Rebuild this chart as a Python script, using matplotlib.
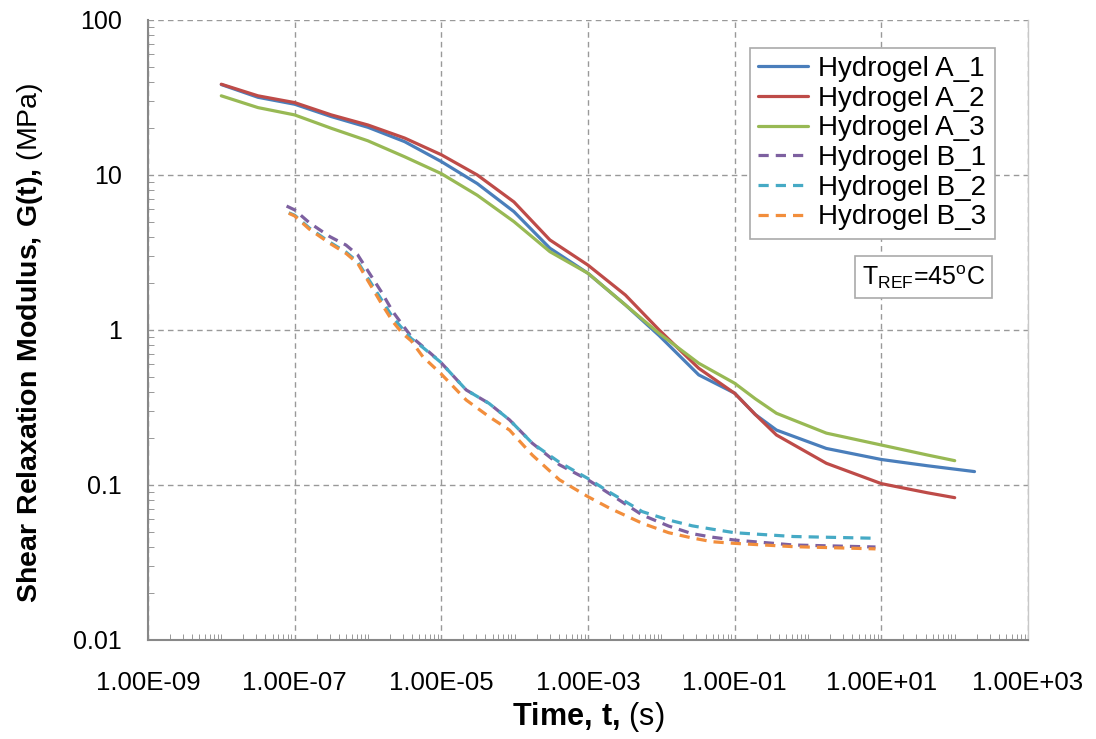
import numpy as np
import matplotlib
matplotlib.use('Agg')
import matplotlib.pyplot as plt
import matplotlib.ticker as ticker

a1_logt = [-8.0, -7.5, -7.0, -6.5, -6.0, -5.5, -5.0, -4.51, -4.01, -3.52, -3.0, -2.49,
           -2.03, -1.49, -1.0, -0.72, -0.43, 0.25, 1.0, 1.63, 2.27]
a1_g = [38.3, 31.7, 28.6, 23.8, 20.3, 16.4, 12.2, 8.8, 5.8, 3.37, 2.32, 1.45,
        0.92, 0.513, 0.391, 0.285, 0.226, 0.172, 0.146, 0.133, 0.122]

a2_logt = [-8.0, -7.5, -7.0, -6.5, -6.0, -5.5, -5.0, -4.51, -4.01, -3.52, -3.0, -2.49,
           -2.03, -1.49, -1.0, -0.72, -0.43, 0.25, 1.0, 1.63, 2.0]
a2_g = [38.5, 32.4, 29.3, 24.4, 21.0, 17.3, 13.5, 10.0, 6.7, 3.81, 2.62, 1.68,
        1.0, 0.566, 0.39, 0.285, 0.21, 0.138, 0.102, 0.089, 0.0828]

a3_logt = [-8.0, -7.5, -7.0, -6.5, -6.0, -5.5, -5.0, -4.51, -4.01, -3.52, -3.0, -2.49,
           -2.03, -1.49, -1.0, -0.72, -0.43, 0.25, 1.0, 1.63, 2.0]
a3_g = [32.4, 27.2, 24.4, 20.0, 16.6, 13.1, 10.2, 7.4, 5.0, 3.2, 2.32, 1.45,
        0.95, 0.61, 0.453, 0.36, 0.29, 0.216, 0.181, 0.156, 0.1435]

b1_logt = [-7.11, -7.0, -6.8, -6.52, -6.3, -6.14, -5.98, -5.82, -5.66, -5.53, -5.41, -5.25,
           -5.01, -4.66, -4.35, -4.07, -3.76, -3.39, -3.0, -2.71, -2.26, -1.9, -1.58, -1.3,
           -1.0, -0.2, 0.92]
b1_g = [6.3, 5.95, 4.92, 4.0, 3.53, 3.05, 2.32, 1.77, 1.31, 1.08, 0.906, 0.78,
        0.62, 0.41, 0.336, 0.263, 0.186, 0.135, 0.108, 0.088, 0.064, 0.0543, 0.0485, 0.046,
        0.0441, 0.041, 0.0398]

b2_logt = [-7.08, -7.0, -6.8, -6.52, -6.3, -6.14, -5.98, -5.82, -5.66, -5.53, -5.41, -5.25,
           -5.01, -4.66, -4.35, -4.07, -3.76, -3.39, -3.0, -2.71, -2.26, -1.9, -1.58, -1.3,
           -1.0, -0.2, 0.92]
b2_g = [5.7, 5.5, 4.55, 3.68, 3.18, 2.75, 2.08, 1.58, 1.2, 1.02, 0.88, 0.77,
        0.62, 0.41, 0.336, 0.263, 0.186, 0.14, 0.11, 0.09, 0.0673, 0.0594, 0.0545, 0.0518,
        0.0492, 0.0465, 0.0453]

b3_logt = [-7.08, -7.0, -6.8, -6.52, -6.3, -6.14, -5.98, -5.82, -5.66, -5.53, -5.41, -5.25,
           -5.01, -4.66, -4.35, -4.07, -3.76, -3.39, -3.0, -2.71, -2.26, -1.9, -1.58, -1.3,
           -1.0, -0.2, 0.92]
b3_g = [5.66, 5.44, 4.47, 3.62, 3.12, 2.69, 2.0, 1.49, 1.13, 0.95, 0.85, 0.67,
        0.525, 0.353, 0.276, 0.226, 0.156, 0.108, 0.084, 0.071, 0.0566, 0.0492, 0.0455, 0.043,
        0.042, 0.040, 0.0387]

labels = ['Hydrogel A_1', 'Hydrogel A_2', 'Hydrogel A_3',
          'Hydrogel B_1', 'Hydrogel B_2', 'Hydrogel B_3']
colors = ['#4A7EBB', '#BE4B48', '#98B954', '#7D60A0', '#46AAC5', '#F28E3C']

plt.rcParams['font.family'] = 'Liberation Sans'
plt.rcParams['mathtext.fontset'] = 'custom'
plt.rcParams['mathtext.rm'] = 'Liberation Sans'
plt.rcParams['mathtext.bf'] = 'Liberation Sans:bold'

fig = plt.figure(figsize=(10.96, 7.39), dpi=100)
ax = fig.add_axes([0.135, 0.134, 0.803, 0.839])

series = [(a1_logt, a1_g), (a2_logt, a2_g), (a3_logt, a3_g),
          (b1_logt, b1_g), (b2_logt, b2_g), (b3_logt, b3_g)]
for i, (lt, g) in enumerate(series):
    t = 10.0 ** np.array(lt)
    if i < 3:
        ax.plot(t, g, color=colors[i], lw=2.3, label=labels[i], solid_capstyle='round')
    else:
        ax.plot(t, g, color=colors[i], lw=2.3, ls=(0, (3.2, 2.2)), label=labels[i])

ax.set_xscale('log')
ax.set_yscale('log')
ax.set_xlim(1e-9, 1e3)
ax.set_ylim(0.01, 100)

# x: labelled gridlines every two decades, minor ticks every decade
ax.xaxis.set_major_locator(ticker.FixedLocator([10.0 ** e for e in range(-9, 4, 2)]))
minors = [k * 10.0 ** e for e in range(-9, 3) for k in range(1, 10) if not (k == 1 and e % 2 != 0)]
ax.xaxis.set_minor_locator(ticker.FixedLocator(minors))
ax.xaxis.set_major_formatter(ticker.FuncFormatter(lambda x, pos: '{:.2E}'.format(x)))
ax.xaxis.set_minor_formatter(ticker.NullFormatter())

ax.yaxis.set_major_locator(ticker.LogLocator(base=10, numticks=10))
ax.yaxis.set_minor_locator(ticker.LogLocator(base=10, subs=np.arange(2, 10), numticks=20))
ax.yaxis.set_major_formatter(ticker.FuncFormatter(lambda y, pos: '{:g}'.format(y)))
ax.yaxis.set_minor_formatter(ticker.NullFormatter())

ax.tick_params(axis='x', which='both', direction='in', colors='#888888', labelcolor='black',
               labelsize=18.5, pad=22)
ax.tick_params(axis='x', which='major', length=0)
ax.tick_params(axis='x', which='minor', length=4)
ax.tick_params(axis='y', which='both', direction='in', colors='#888888', labelcolor='black',
               labelsize=18, pad=19)
ax.tick_params(axis='y', which='major', length=0)
ax.tick_params(axis='y', which='minor', length=4)

ax.grid(True, which='major', color='#999999', ls=(0, (4, 3)), lw=1.0)
ax.set_axisbelow(True)
for s in ['left', 'bottom']:
    ax.spines[s].set_color('#888888')
    ax.spines[s].set_linewidth(1.5)
ax.spines['top'].set_visible(False)
ax.spines['right'].set_color('#c8c8c8')
ax.spines['right'].set_linewidth(1.0)

ax.set_xlabel(r'$\mathbf{Time{,}\ t{,}}$ (s)', fontsize=22, labelpad=4)
ax.set_ylabel(r'$\mathbf{Shear\ Relaxation\ Modulus{,}\ G(t){,}}$ (MPa)', fontsize=20.5)
ax.yaxis.set_label_coords(-0.117, 0.479)

leg = ax.legend(loc='upper right', bbox_to_anchor=(0.962, 0.955), fontsize=20,
                handlelength=1.8, handletextpad=0.35, labelspacing=0.13, borderpad=0.3,
                borderaxespad=0, fancybox=False, framealpha=1.0, edgecolor='#aaaaaa')
leg.get_frame().set_linewidth(1.2)

ax.text(0.951, 0.586, r'T$_{\mathrm{REF}}$=45$^{\mathrm{o}}$C', transform=ax.transAxes,
        ha='right', va='center', fontsize=18,
        bbox=dict(boxstyle='square,pad=0.28', fc='white', ec='#aaaaaa', lw=1.2))

fig.savefig('out.png', dpi=100)
